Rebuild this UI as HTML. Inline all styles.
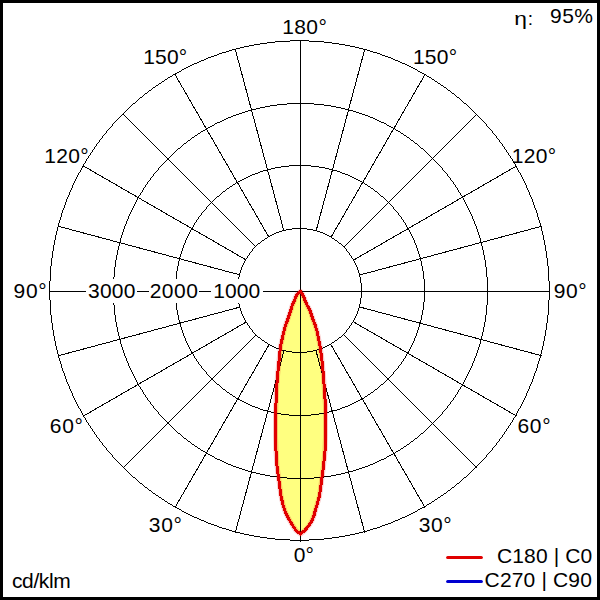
<!DOCTYPE html>
<html><head><meta charset="utf-8">
<style>
html,body{margin:0;padding:0;background:#fff;}
body{width:600px;height:600px;overflow:hidden;}
svg{display:block;}
text{font-family:"Liberation Sans",sans-serif;font-size:21px;fill:#000;}
</style></head><body>
<svg width="600" height="600" viewBox="0 0 600 600">
<rect x="0" y="0" width="600" height="600" fill="#fff"/>
<path d="M300.50,291.50 L296.90,294.50 L295.90,296.50 L295.10,298.50 L294.50,300.50 L293.50,302.50 L292.20,305.50 L290.75,310.50 L289.00,315.50 L287.70,319.50 L285.25,326.00 L284.00,331.00 L282.75,336.00 L281.75,341.00 L280.60,346.00 L279.50,356.00 L278.50,366.00 L277.50,376.00 L276.50,391.00 L275.90,406.00 L275.50,421.00 L275.50,436.00 L276.00,451.00 L277.00,466.00 L279.00,481.00 L281.00,496.00 L283.20,505.50 L284.70,510.50 L287.00,515.50 L289.70,520.50 L292.70,525.50 L296.00,530.50 L300.50,534.00 L304.80,530.50 L309.00,525.50 L312.00,520.50 L314.00,515.50 L315.30,510.50 L316.80,505.50 L319.50,496.00 L321.50,481.00 L323.50,466.00 L325.00,451.00 L325.50,436.00 L325.50,421.00 L325.50,406.00 L324.50,391.00 L323.50,376.00 L322.50,366.00 L321.50,356.00 L320.00,346.00 L319.00,341.00 L318.00,336.00 L317.00,331.00 L315.50,326.00 L313.00,319.50 L311.70,315.50 L310.00,310.50 L307.30,305.50 L305.00,300.50 L304.40,298.50 L303.40,296.50 L302.50,294.50 L300.50,291.50 Z" fill="#FFFF80" stroke="none" shape-rendering="crispEdges"/>
<g fill="none" stroke="#000" stroke-width="1" shape-rendering="crispEdges">
<line x1="49.5" y1="291.5" x2="549.5" y2="291.5"/>
<line x1="300.5" y1="40.5" x2="300.5" y2="541.5"/>
<line x1="360.37" y1="307.18" x2="541.48" y2="355.70"/>
<line x1="354.13" y1="322.25" x2="516.51" y2="416.00"/>
<line x1="344.19" y1="335.19" x2="476.78" y2="467.78"/>
<line x1="331.25" y1="345.13" x2="425.00" y2="507.51"/>
<line x1="316.18" y1="351.37" x2="364.70" y2="532.48"/>
<line x1="283.82" y1="351.37" x2="235.30" y2="532.48"/>
<line x1="268.75" y1="345.13" x2="175.00" y2="507.51"/>
<line x1="255.81" y1="335.19" x2="123.22" y2="467.78"/>
<line x1="245.87" y1="322.25" x2="83.49" y2="416.00"/>
<line x1="239.63" y1="307.18" x2="58.52" y2="355.70"/>
<line x1="239.63" y1="274.82" x2="58.52" y2="226.30"/>
<line x1="245.87" y1="259.75" x2="83.49" y2="166.00"/>
<line x1="255.81" y1="246.81" x2="123.22" y2="114.22"/>
<line x1="268.75" y1="236.87" x2="175.00" y2="74.49"/>
<line x1="283.82" y1="230.63" x2="235.30" y2="49.52"/>
<line x1="316.18" y1="230.63" x2="364.70" y2="49.52"/>
<line x1="331.25" y1="236.87" x2="425.00" y2="74.49"/>
<line x1="344.19" y1="246.81" x2="476.78" y2="114.22"/>
<line x1="354.13" y1="259.75" x2="516.51" y2="166.00"/>
<line x1="360.37" y1="274.82" x2="541.48" y2="226.30"/>
</g>
<path d="M172 75h1v1h-1zM426 75h1v1h-1zM130 106h1v1h-1zM468 106h1v1h-1zM214 55h3v1h-3zM382 55h3v1h-3zM267 42h8v1h-8zM324 42h8v1h-8zM133 477h2v1h-2zM464 477h2v1h-2zM194 517h3v1h-3zM402 517h3v1h-3zM275 41h15v1h-15zM309 41h15v1h-15zM275 539h15v1h-15zM309 539h15v1h-15zM122 114h1v1h-1zM476 114h1v1h-1zM254 536h6v1h-6zM339 536h6v1h-6zM267 538h8v1h-8zM324 538h8v1h-8zM133 103h2v1h-2zM464 103h2v1h-2zM214 525h3v1h-3zM382 525h3v1h-3zM236 532h4v1h-4zM359 532h4v1h-4zM140 483h2v1h-2zM457 483h2v1h-2zM199 61h2v1h-2zM398 61h2v1h-2zM197 518h2v1h-2zM400 518h2v1h-2zM249 535h5v1h-5zM345 535h5v1h-5zM130 474h1v1h-1zM468 474h1v1h-1zM226 51h3v1h-3zM370 51h3v1h-3zM190 515h2v1h-2zM407 515h2v1h-2zM182 511h2v1h-2zM415 511h2v1h-2zM142 484h1v1h-1zM456 484h1v1h-1zM244 46h5v1h-5zM350 46h5v1h-5zM290 40h19v1h-19zM222 52h4v1h-4zM373 52h4v1h-4zM260 537h7v1h-7zM332 537h7v1h-7zM232 531h4v1h-4zM363 531h4v1h-4zM201 520h3v1h-3zM395 520h3v1h-3zM140 97h2v1h-2zM457 97h2v1h-2zM236 48h4v1h-4zM359 48h4v1h-4zM208 523h3v1h-3zM388 523h3v1h-3zM175 73h2v1h-2zM422 73h2v1h-2zM164 80h1v1h-1zM434 80h1v1h-1zM260 43h7v1h-7zM332 43h7v1h-7zM156 85h2v1h-2zM441 85h2v1h-2zM186 513h2v1h-2zM411 513h2v1h-2zM179 509h2v1h-2zM418 509h2v1h-2zM192 516h2v1h-2zM405 516h2v1h-2zM249 45h5v1h-5zM345 45h5v1h-5zM290 540h19v1h-19zM156 495h2v1h-2zM441 495h2v1h-2zM168 77h2v1h-2zM429 77h2v1h-2zM240 533h4v1h-4zM355 533h4v1h-4zM116 120h1v1h-1zM482 120h1v1h-1zM152 492h1v1h-1zM446 492h1v1h-1zM145 93h2v1h-2zM452 93h2v1h-2zM211 56h3v1h-3zM385 56h3v1h-3zM194 63h3v1h-3zM402 63h3v1h-3zM149 490h2v1h-2zM448 490h2v1h-2zM219 53h3v1h-3zM377 53h3v1h-3zM125 111h1v1h-1zM473 111h1v1h-1zM118 462h1v1h-1zM480 462h1v1h-1zM170 76h2v1h-2zM427 76h2v1h-2zM190 65h2v1h-2zM407 65h2v1h-2zM145 487h2v1h-2zM452 487h2v1h-2zM232 49h4v1h-4zM363 49h4v1h-4zM165 501h2v1h-2zM432 501h2v1h-2zM229 530h3v1h-3zM367 530h3v1h-3zM119 463h1v1h-1zM479 463h1v1h-1zM254 44h6v1h-6zM339 44h6v1h-6zM217 54h2v1h-2zM380 54h2v1h-2zM153 493h2v1h-2zM444 493h2v1h-2zM206 522h2v1h-2zM391 522h2v1h-2zM206 58h2v1h-2zM391 58h2v1h-2zM240 47h4v1h-4zM355 47h4v1h-4zM137 480h1v1h-1zM461 480h1v1h-1zM126 470h1v1h-1zM472 470h1v1h-1zM222 528h4v1h-4zM373 528h4v1h-4zM177 508h2v1h-2zM420 508h2v1h-2zM170 504h2v1h-2zM427 504h2v1h-2zM219 527h3v1h-3zM377 527h3v1h-3zM211 524h3v1h-3zM385 524h3v1h-3zM132 104h1v1h-1zM466 104h1v1h-1zM173 506h2v1h-2zM424 506h2v1h-2zM244 534h5v1h-5zM350 534h5v1h-5zM186 67h2v1h-2zM411 67h2v1h-2zM208 57h3v1h-3zM388 57h3v1h-3zM161 498h1v1h-1zM437 498h1v1h-1zM168 503h2v1h-2zM429 503h2v1h-2zM148 489h1v1h-1zM450 489h1v1h-1zM201 60h3v1h-3zM395 60h3v1h-3zM120 116h1v1h-1zM478 116h1v1h-1zM125 469h1v1h-1zM473 469h1v1h-1zM229 50h3v1h-3zM367 50h3v1h-3zM153 87h2v1h-2zM444 87h2v1h-2zM197 62h2v1h-2zM400 62h2v1h-2zM182 69h2v1h-2zM415 69h2v1h-2zM179 71h2v1h-2zM418 71h2v1h-2zM135 478h1v1h-1zM463 478h1v1h-1zM199 519h2v1h-2zM398 519h2v1h-2zM128 108h1v1h-1zM470 108h1v1h-1zM147 92h1v1h-1zM451 92h1v1h-1zM188 66h2v1h-2zM409 66h2v1h-2zM136 101h1v1h-1zM462 101h1v1h-1zM132 476h1v1h-1zM466 476h1v1h-1zM131 475h1v1h-1zM467 475h1v1h-1zM151 89h1v1h-1zM447 89h1v1h-1zM144 486h1v1h-1zM454 486h1v1h-1zM129 107h1v1h-1zM469 107h1v1h-1zM138 481h1v1h-1zM460 481h1v1h-1zM181 510h1v1h-1zM417 510h1v1h-1zM139 98h1v1h-1zM459 98h1v1h-1zM121 115h1v1h-1zM477 115h1v1h-1zM158 84h1v1h-1zM440 84h1v1h-1zM167 502h1v1h-1zM431 502h1v1h-1zM127 109h1v1h-1zM471 109h1v1h-1zM175 507h2v1h-2zM422 507h2v1h-2zM184 68h2v1h-2zM413 68h2v1h-2zM204 521h2v1h-2zM393 521h2v1h-2zM162 499h2v1h-2zM435 499h2v1h-2zM117 119h1v1h-1zM481 119h1v1h-1zM226 529h3v1h-3zM370 529h3v1h-3zM143 485h1v1h-1zM455 485h1v1h-1zM124 468h1v1h-1zM474 468h1v1h-1zM162 81h2v1h-2zM435 81h2v1h-2zM184 512h2v1h-2zM413 512h2v1h-2zM159 497h2v1h-2zM438 497h2v1h-2zM158 496h1v1h-1zM440 496h1v1h-1zM139 482h1v1h-1zM459 482h1v1h-1zM155 494h1v1h-1zM443 494h1v1h-1zM124 112h1v1h-1zM474 112h1v1h-1zM144 94h1v1h-1zM454 94h1v1h-1zM204 59h2v1h-2zM393 59h2v1h-2zM151 491h1v1h-1zM447 491h1v1h-1zM143 95h1v1h-1zM455 95h1v1h-1zM117 461h1v1h-1zM481 461h1v1h-1zM155 86h1v1h-1zM443 86h1v1h-1zM159 83h2v1h-2zM438 83h2v1h-2zM120 464h1v1h-1zM478 464h1v1h-1zM167 78h1v1h-1zM431 78h1v1h-1zM121 465h1v1h-1zM477 465h1v1h-1zM181 70h1v1h-1zM417 70h1v1h-1zM165 79h2v1h-2zM432 79h2v1h-2zM129 473h1v1h-1zM469 473h1v1h-1zM127 471h1v1h-1zM471 471h1v1h-1zM131 105h1v1h-1zM467 105h1v1h-1zM177 72h2v1h-2zM420 72h2v1h-2zM136 479h1v1h-1zM462 479h1v1h-1zM188 514h2v1h-2zM409 514h2v1h-2zM147 488h1v1h-1zM451 488h1v1h-1zM128 472h1v1h-1zM470 472h1v1h-1zM135 102h1v1h-1zM463 102h1v1h-1zM172 505h1v1h-1zM426 505h1v1h-1zM119 117h1v1h-1zM479 117h1v1h-1zM149 90h2v1h-2zM448 90h2v1h-2zM148 91h1v1h-1zM450 91h1v1h-1zM137 100h1v1h-1zM461 100h1v1h-1zM138 99h1v1h-1zM460 99h1v1h-1zM217 526h2v1h-2zM380 526h2v1h-2zM161 82h1v1h-1zM437 82h1v1h-1zM173 74h2v1h-2zM424 74h2v1h-2zM142 96h1v1h-1zM456 96h1v1h-1zM126 110h1v1h-1zM472 110h1v1h-1zM122 466h1v1h-1zM476 466h1v1h-1zM152 88h1v1h-1zM446 88h1v1h-1zM164 500h1v1h-1zM434 500h1v1h-1zM192 64h2v1h-2zM405 64h2v1h-2zM123 467h1v1h-1zM475 467h1v1h-1zM118 118h1v1h-1zM480 118h1v1h-1zM123 113h1v1h-1zM475 113h1v1h-1zM116 460h1v1h-1zM482 460h1v1h-1zM533 202h1v3h-1zM533 376h1v3h-1zM75 179h1v2h-1zM75 400h1v2h-1zM523 179h1v2h-1zM523 400h1v2h-1zM492 131h1v2h-1zM492 448h1v2h-1zM72 185h1v3h-1zM72 393h1v3h-1zM49 281h1v19h-1zM476 114h1v1h-1zM476 466h1v1h-1zM504 147h1v2h-1zM504 432h1v2h-1zM54 240h1v5h-1zM54 336h1v5h-1zM528 190h1v2h-1zM528 389h1v2h-1zM540 223h1v4h-1zM540 354h1v4h-1zM90 153h1v2h-1zM90 426h1v2h-1zM547 258h1v8h-1zM547 315h1v8h-1zM67 197h1v2h-1zM67 382h1v2h-1zM61 213h1v4h-1zM61 364h1v4h-1zM79 172h1v1h-1zM79 408h1v1h-1zM102 136h1v2h-1zM102 443h1v2h-1zM69 192h1v3h-1zM69 386h1v3h-1zM51 258h1v8h-1zM51 315h1v8h-1zM545 245h1v6h-1zM545 330h1v6h-1zM58 223h1v4h-1zM58 354h1v4h-1zM483 121h1v1h-1zM483 459h1v1h-1zM549 281h1v19h-1zM83 164h1v2h-1zM83 415h1v2h-1zM546 251h1v7h-1zM546 323h1v7h-1zM541 227h1v4h-1zM541 350h1v4h-1zM526 185h1v3h-1zM526 393h1v3h-1zM536 210h1v3h-1zM536 368h1v3h-1zM65 202h1v3h-1zM65 376h1v3h-1zM66 199h1v3h-1zM66 379h1v3h-1zM537 213h1v4h-1zM537 364h1v4h-1zM53 245h1v6h-1zM53 330h1v6h-1zM110 127h1v1h-1zM110 453h1v1h-1zM507 152h1v1h-1zM507 428h1v1h-1zM544 240h1v5h-1zM544 336h1v5h-1zM57 227h1v4h-1zM57 350h1v4h-1zM532 199h1v3h-1zM532 379h1v3h-1zM501 143h1v1h-1zM501 437h1v1h-1zM482 120h1v1h-1zM482 460h1v1h-1zM112 124h1v2h-1zM112 455h1v2h-1zM491 130h1v1h-1zM491 450h1v1h-1zM505 149h1v1h-1zM505 431h1v1h-1zM74 181h1v2h-1zM74 398h1v2h-1zM68 195h1v2h-1zM68 384h1v2h-1zM86 159h1v2h-1zM86 420h1v2h-1zM125 111h1v1h-1zM125 469h1v1h-1zM527 188h1v2h-1zM527 391h1v2h-1zM484 122h1v1h-1zM484 458h1v1h-1zM118 118h1v1h-1zM118 462h1v1h-1zM487 126h1v1h-1zM487 454h1v1h-1zM82 166h1v2h-1zM82 413h1v2h-1zM122 114h1v1h-1zM122 466h1v1h-1zM100 139h1v1h-1zM100 441h1v1h-1zM119 117h1v1h-1zM119 463h1v1h-1zM525 183h1v2h-1zM525 396h1v2h-1zM500 142h1v1h-1zM500 438h1v1h-1zM64 205h1v3h-1zM64 373h1v3h-1zM543 235h1v5h-1zM543 341h1v5h-1zM62 210h1v3h-1zM62 368h1v3h-1zM113 123h1v1h-1zM113 457h1v1h-1zM52 251h1v7h-1zM52 323h1v7h-1zM539 220h1v3h-1zM539 358h1v3h-1zM472 110h1v1h-1zM472 470h1v1h-1zM78 173h1v2h-1zM78 406h1v2h-1zM126 110h1v1h-1zM126 470h1v1h-1zM508 153h1v2h-1zM508 426h1v2h-1zM71 188h1v2h-1zM71 391h1v2h-1zM105 133h1v1h-1zM105 447h1v1h-1zM111 126h1v1h-1zM111 454h1v1h-1zM93 149h1v1h-1zM93 431h1v1h-1zM548 266h1v15h-1zM548 300h1v15h-1zM85 161h1v2h-1zM85 418h1v2h-1zM50 266h1v15h-1zM50 300h1v15h-1zM503 146h1v1h-1zM503 434h1v1h-1zM506 150h1v2h-1zM506 429h1v2h-1zM89 155h1v1h-1zM89 425h1v1h-1zM493 133h1v1h-1zM493 447h1v1h-1zM522 177h1v2h-1zM522 402h1v2h-1zM73 183h1v2h-1zM73 396h1v2h-1zM120 116h1v1h-1zM120 464h1v1h-1zM479 117h1v1h-1zM479 463h1v1h-1zM518 170h1v2h-1zM518 409h1v2h-1zM478 116h1v1h-1zM478 464h1v1h-1zM515 164h1v2h-1zM515 415h1v2h-1zM70 190h1v2h-1zM70 389h1v2h-1zM101 138h1v1h-1zM101 442h1v1h-1zM56 231h1v4h-1zM56 346h1v4h-1zM470 108h1v1h-1zM470 472h1v1h-1zM529 192h1v3h-1zM529 386h1v3h-1zM60 217h1v3h-1zM60 361h1v3h-1zM535 208h1v2h-1zM535 371h1v2h-1zM542 231h1v4h-1zM542 346h1v4h-1zM81 168h1v2h-1zM81 411h1v2h-1zM129 107h1v1h-1zM129 473h1v1h-1zM103 135h1v1h-1zM103 445h1v1h-1zM494 134h1v1h-1zM494 446h1v1h-1zM477 115h1v1h-1zM477 465h1v1h-1zM63 208h1v2h-1zM63 371h1v2h-1zM127 109h1v1h-1zM127 471h1v1h-1zM521 175h1v2h-1zM521 404h1v2h-1zM486 124h1v2h-1zM486 455h1v2h-1zM510 156h1v2h-1zM510 423h1v2h-1zM513 161h1v2h-1zM513 418h1v2h-1zM117 119h1v1h-1zM117 461h1v1h-1zM96 144h1v2h-1zM96 435h1v2h-1zM502 144h1v2h-1zM502 435h1v2h-1zM114 122h1v1h-1zM114 458h1v1h-1zM88 156h1v2h-1zM88 423h1v2h-1zM115 121h1v1h-1zM115 459h1v1h-1zM77 175h1v2h-1zM77 404h1v2h-1zM474 112h1v1h-1zM474 468h1v1h-1zM55 235h1v5h-1zM55 341h1v5h-1zM80 170h1v2h-1zM80 409h1v2h-1zM92 150h1v2h-1zM92 429h1v2h-1zM534 205h1v3h-1zM534 373h1v3h-1zM524 181h1v2h-1zM524 398h1v2h-1zM538 217h1v3h-1zM538 361h1v3h-1zM106 131h1v2h-1zM106 448h1v2h-1zM496 136h1v2h-1zM496 443h1v2h-1zM517 168h1v2h-1zM517 411h1v2h-1zM520 173h1v2h-1zM520 406h1v2h-1zM59 220h1v3h-1zM59 358h1v3h-1zM104 134h1v1h-1zM104 446h1v1h-1zM124 112h1v1h-1zM124 468h1v1h-1zM531 197h1v2h-1zM531 382h1v2h-1zM99 140h1v2h-1zM99 439h1v2h-1zM84 163h1v1h-1zM84 417h1v1h-1zM87 158h1v1h-1zM87 422h1v1h-1zM481 119h1v1h-1zM481 461h1v1h-1zM76 177h1v2h-1zM76 402h1v2h-1zM497 138h1v1h-1zM497 442h1v1h-1zM509 155h1v1h-1zM509 425h1v1h-1zM121 115h1v1h-1zM121 465h1v1h-1zM489 128h1v1h-1zM489 452h1v1h-1zM107 130h1v1h-1zM107 450h1v1h-1zM495 135h1v1h-1zM495 445h1v1h-1zM516 166h1v2h-1zM516 413h1v2h-1zM469 107h1v1h-1zM469 473h1v1h-1zM530 195h1v2h-1zM530 384h1v2h-1zM128 108h1v1h-1zM128 472h1v1h-1zM91 152h1v1h-1zM91 428h1v1h-1zM512 159h1v2h-1zM512 420h1v2h-1zM94 147h1v2h-1zM94 432h1v2h-1zM519 172h1v1h-1zM519 408h1v1h-1zM95 146h1v1h-1zM95 434h1v1h-1zM473 111h1v1h-1zM473 469h1v1h-1zM471 109h1v1h-1zM471 471h1v1h-1zM98 142h1v1h-1zM98 438h1v1h-1zM511 158h1v1h-1zM511 422h1v1h-1zM499 140h1v2h-1zM499 439h1v2h-1zM97 143h1v1h-1zM97 437h1v1h-1zM488 127h1v1h-1zM488 453h1v1h-1zM123 113h1v1h-1zM123 467h1v1h-1zM108 129h1v1h-1zM108 451h1v1h-1zM485 123h1v1h-1zM485 457h1v1h-1zM109 128h1v1h-1zM109 452h1v1h-1zM514 163h1v1h-1zM514 417h1v1h-1zM475 113h1v1h-1zM475 467h1v1h-1zM490 129h1v1h-1zM490 451h1v1h-1zM116 120h1v1h-1zM116 460h1v1h-1zM498 139h1v1h-1zM498 441h1v1h-1zM480 118h1v1h-1zM480 462h1v1h-1zM277 477h10v1h-10zM314 477h10v1h-10zM171 155h1v1h-1zM429 155h1v1h-1zM183 437h1v1h-1zM417 437h1v1h-1zM287 103h27v1h-27zM206 453h2v1h-2zM393 453h2v1h-2zM265 475h5v1h-5zM331 475h5v1h-5zM236 114h3v1h-3zM362 114h3v1h-3zM248 471h4v1h-4zM349 471h4v1h-4zM248 110h4v1h-4zM349 110h4v1h-4zM170 425h1v1h-1zM430 425h1v1h-1zM277 104h10v1h-10zM314 104h10v1h-10zM239 468h3v1h-3zM359 468h3v1h-3zM165 161h1v1h-1zM435 161h1v1h-1zM252 472h4v1h-4zM345 472h4v1h-4zM287 478h27v1h-27zM245 111h3v1h-3zM353 111h3v1h-3zM164 162h1v1h-1zM436 162h1v1h-1zM177 149h1v1h-1zM423 149h1v1h-1zM228 464h3v1h-3zM370 464h3v1h-3zM195 446h2v1h-2zM404 446h2v1h-2zM242 112h3v1h-3zM356 112h3v1h-3zM270 476h7v1h-7zM324 476h7v1h-7zM220 121h2v1h-2zM379 121h2v1h-2zM265 106h5v1h-5zM331 106h5v1h-5zM167 159h1v1h-1zM433 159h1v1h-1zM177 432h1v1h-1zM423 432h1v1h-1zM191 443h1v1h-1zM409 443h1v1h-1zM210 455h2v1h-2zM389 455h2v1h-2zM205 129h1v1h-1zM395 129h1v1h-1zM192 444h2v1h-2zM407 444h2v1h-2zM183 144h1v1h-1zM417 144h1v1h-1zM233 115h3v1h-3zM365 115h3v1h-3zM217 459h3v1h-3zM381 459h3v1h-3zM260 107h5v1h-5zM336 107h5v1h-5zM252 109h4v1h-4zM345 109h4v1h-4zM182 145h1v1h-1zM418 145h1v1h-1zM210 126h2v1h-2zM389 126h2v1h-2zM231 116h2v1h-2zM368 116h2v1h-2zM256 473h4v1h-4zM341 473h4v1h-4zM172 427h1v1h-1zM428 427h1v1h-1zM212 125h2v1h-2zM387 125h2v1h-2zM201 131h2v1h-2zM398 131h2v1h-2zM208 127h2v1h-2zM391 127h2v1h-2zM203 130h2v1h-2zM396 130h2v1h-2zM195 135h2v1h-2zM404 135h2v1h-2zM181 146h1v1h-1zM419 146h1v1h-1zM239 113h3v1h-3zM359 113h3v1h-3zM233 466h3v1h-3zM365 466h3v1h-3zM206 128h2v1h-2zM393 128h2v1h-2zM184 143h2v1h-2zM415 143h2v1h-2zM174 152h1v1h-1zM426 152h1v1h-1zM188 140h2v1h-2zM411 140h2v1h-2zM228 117h3v1h-3zM370 117h3v1h-3zM222 120h2v1h-2zM377 120h2v1h-2zM222 461h2v1h-2zM377 461h2v1h-2zM270 105h7v1h-7zM324 105h7v1h-7zM224 119h2v1h-2zM375 119h2v1h-2zM165 420h1v1h-1zM435 420h1v1h-1zM236 467h3v1h-3zM362 467h3v1h-3zM176 431h1v1h-1zM424 431h1v1h-1zM184 438h2v1h-2zM415 438h2v1h-2zM214 457h1v1h-1zM386 457h1v1h-1zM187 440h1v1h-1zM413 440h1v1h-1zM200 132h1v1h-1zM400 132h1v1h-1zM192 137h2v1h-2zM407 137h2v1h-2zM181 435h1v1h-1zM419 435h1v1h-1zM188 441h2v1h-2zM411 441h2v1h-2zM217 122h3v1h-3zM381 122h3v1h-3zM242 469h3v1h-3zM356 469h3v1h-3zM200 449h1v1h-1zM400 449h1v1h-1zM187 141h1v1h-1zM413 141h1v1h-1zM260 474h5v1h-5zM336 474h5v1h-5zM176 150h1v1h-1zM424 150h1v1h-1zM231 465h2v1h-2zM368 465h2v1h-2zM256 108h4v1h-4zM341 108h4v1h-4zM224 462h2v1h-2zM375 462h2v1h-2zM226 463h2v1h-2zM373 463h2v1h-2zM169 157h1v1h-1zM431 157h1v1h-1zM220 460h2v1h-2zM379 460h2v1h-2zM212 456h2v1h-2zM387 456h2v1h-2zM205 452h1v1h-1zM395 452h1v1h-1zM174 429h1v1h-1zM426 429h1v1h-1zM208 454h2v1h-2zM391 454h2v1h-2zM198 448h2v1h-2zM401 448h2v1h-2zM203 451h2v1h-2zM396 451h2v1h-2zM201 450h2v1h-2zM398 450h2v1h-2zM170 156h1v1h-1zM430 156h1v1h-1zM197 447h1v1h-1zM403 447h1v1h-1zM180 147h1v1h-1zM420 147h1v1h-1zM215 123h2v1h-2zM384 123h2v1h-2zM245 470h3v1h-3zM353 470h3v1h-3zM215 458h2v1h-2zM384 458h2v1h-2zM194 445h1v1h-1zM406 445h1v1h-1zM171 426h1v1h-1zM429 426h1v1h-1zM190 442h1v1h-1zM410 442h1v1h-1zM163 163h1v1h-1zM437 163h1v1h-1zM198 133h2v1h-2zM401 133h2v1h-2zM191 138h1v1h-1zM409 138h1v1h-1zM178 433h2v1h-2zM421 433h2v1h-2zM186 439h1v1h-1zM414 439h1v1h-1zM163 418h1v1h-1zM437 418h1v1h-1zM186 142h1v1h-1zM414 142h1v1h-1zM226 118h2v1h-2zM373 118h2v1h-2zM175 430h1v1h-1zM425 430h1v1h-1zM190 139h1v1h-1zM410 139h1v1h-1zM175 151h1v1h-1zM425 151h1v1h-1zM197 134h1v1h-1zM403 134h1v1h-1zM178 148h2v1h-2zM421 148h2v1h-2zM166 421h1v1h-1zM434 421h1v1h-1zM167 422h1v1h-1zM433 422h1v1h-1zM168 158h1v1h-1zM432 158h1v1h-1zM168 423h1v1h-1zM432 423h1v1h-1zM173 428h1v1h-1zM427 428h1v1h-1zM166 160h1v1h-1zM434 160h1v1h-1zM194 136h1v1h-1zM406 136h1v1h-1zM173 153h1v1h-1zM427 153h1v1h-1zM180 434h1v1h-1zM420 434h1v1h-1zM169 424h1v1h-1zM431 424h1v1h-1zM214 124h1v1h-1zM386 124h1v1h-1zM182 436h1v1h-1zM418 436h1v1h-1zM172 154h1v1h-1zM428 154h1v1h-1zM164 419h1v1h-1zM436 419h1v1h-1zM429 155h1v1h-1zM429 426h1v1h-1zM458 190h1v2h-1zM458 390h1v2h-1zM472 216h1v3h-1zM472 363h1v3h-1zM143 188h1v2h-1zM143 392h1v2h-1zM486 267h1v10h-1zM486 305h1v10h-1zM137 198h1v2h-1zM137 382h1v2h-1zM145 185h1v2h-1zM145 395h1v2h-1zM113 277h1v28h-1zM135 202h1v2h-1zM135 378h1v2h-1zM122 232h1v3h-1zM122 347h1v3h-1zM454 184h1v1h-1zM454 397h1v1h-1zM462 196h1v2h-1zM462 384h1v2h-1zM170 156h1v1h-1zM170 425h1v1h-1zM475 224h1v2h-1zM475 356h1v2h-1zM480 238h1v4h-1zM480 340h1v4h-1zM435 161h1v1h-1zM435 420h1v1h-1zM115 260h1v7h-1zM115 315h1v7h-1zM114 267h1v10h-1zM114 305h1v10h-1zM455 185h1v2h-1zM455 395h1v2h-1zM476 226h1v3h-1zM476 353h1v3h-1zM436 162h1v1h-1zM436 419h1v1h-1zM471 214h1v2h-1zM471 366h1v2h-1zM485 260h1v7h-1zM485 315h1v7h-1zM484 255h1v5h-1zM484 322h1v5h-1zM167 159h1v1h-1zM167 422h1v1h-1zM126 221h1v3h-1zM126 358h1v3h-1zM479 235h1v3h-1zM479 344h1v3h-1zM440 166h1v1h-1zM440 415h1v1h-1zM443 170h1v1h-1zM443 411h1v1h-1zM119 242h1v4h-1zM119 336h1v4h-1zM140 193h1v2h-1zM140 387h1v2h-1zM130 212h1v2h-1zM130 368h1v2h-1zM467 206h1v2h-1zM467 374h1v2h-1zM483 250h1v5h-1zM483 327h1v5h-1zM165 161h1v1h-1zM165 420h1v1h-1zM468 208h1v2h-1zM468 372h1v2h-1zM141 192h1v1h-1zM141 389h1v1h-1zM118 246h1v4h-1zM118 332h1v4h-1zM457 188h1v2h-1zM457 392h1v2h-1zM465 202h1v2h-1zM465 378h1v2h-1zM116 255h1v5h-1zM116 322h1v5h-1zM144 187h1v1h-1zM144 394h1v1h-1zM146 184h1v1h-1zM146 397h1v1h-1zM155 172h1v1h-1zM155 409h1v1h-1zM428 154h1v1h-1zM428 427h1v1h-1zM448 176h1v1h-1zM448 405h1v1h-1zM461 195h1v1h-1zM461 386h1v1h-1zM142 190h1v2h-1zM142 390h1v2h-1zM134 204h1v2h-1zM134 376h1v2h-1zM121 235h1v3h-1zM121 344h1v3h-1zM478 232h1v3h-1zM478 347h1v3h-1zM442 168h1v2h-1zM442 412h1v2h-1zM136 200h1v2h-1zM136 380h1v2h-1zM139 195h1v1h-1zM139 386h1v1h-1zM149 180h1v1h-1zM149 401h1v1h-1zM147 182h1v2h-1zM147 398h1v2h-1zM464 200h1v2h-1zM464 380h1v2h-1zM453 182h1v2h-1zM453 398h1v2h-1zM117 250h1v5h-1zM117 327h1v5h-1zM162 164h1v1h-1zM162 417h1v1h-1zM133 206h1v2h-1zM133 374h1v2h-1zM487 277h1v28h-1zM158 168h1v2h-1zM158 412h1v2h-1zM157 170h1v1h-1zM157 411h1v1h-1zM466 204h1v2h-1zM466 376h1v2h-1zM125 224h1v2h-1zM125 356h1v2h-1zM482 246h1v4h-1zM482 332h1v4h-1zM438 164h1v1h-1zM438 417h1v1h-1zM470 212h1v2h-1zM470 368h1v2h-1zM460 193h1v2h-1zM460 387h1v2h-1zM451 180h1v1h-1zM451 401h1v1h-1zM431 157h1v1h-1zM431 424h1v1h-1zM169 157h1v1h-1zM169 424h1v1h-1zM138 196h1v2h-1zM138 384h1v2h-1zM481 242h1v4h-1zM481 336h1v4h-1zM132 208h1v2h-1zM132 372h1v2h-1zM474 221h1v3h-1zM474 358h1v3h-1zM172 154h1v1h-1zM172 427h1v1h-1zM129 214h1v2h-1zM129 366h1v2h-1zM128 216h1v3h-1zM128 363h1v3h-1zM445 172h1v1h-1zM445 409h1v1h-1zM120 238h1v4h-1zM120 340h1v4h-1zM446 173h1v1h-1zM446 408h1v1h-1zM430 156h1v1h-1zM430 425h1v1h-1zM459 192h1v1h-1zM459 389h1v1h-1zM473 219h1v2h-1zM473 361h1v2h-1zM124 226h1v3h-1zM124 353h1v3h-1zM469 210h1v2h-1zM469 370h1v2h-1zM164 162h1v1h-1zM164 419h1v1h-1zM450 178h1v2h-1zM450 402h1v2h-1zM477 229h1v3h-1zM477 350h1v3h-1zM463 198h1v2h-1zM463 382h1v2h-1zM150 178h1v2h-1zM150 402h1v2h-1zM171 155h1v1h-1zM171 426h1v1h-1zM131 210h1v2h-1zM131 370h1v2h-1zM437 163h1v1h-1zM437 418h1v1h-1zM156 171h1v1h-1zM156 410h1v1h-1zM127 219h1v2h-1zM127 361h1v2h-1zM160 166h1v1h-1zM160 415h1v1h-1zM148 181h1v1h-1zM148 400h1v1h-1zM151 177h1v1h-1zM151 404h1v1h-1zM123 229h1v3h-1zM123 350h1v3h-1zM447 174h1v2h-1zM447 406h1v2h-1zM159 167h1v1h-1zM159 414h1v1h-1zM154 173h1v1h-1zM154 408h1v1h-1zM456 187h1v1h-1zM456 394h1v1h-1zM166 160h1v1h-1zM166 421h1v1h-1zM432 158h1v1h-1zM432 423h1v1h-1zM173 153h1v1h-1zM173 428h1v1h-1zM152 176h1v1h-1zM152 405h1v1h-1zM444 171h1v1h-1zM444 410h1v1h-1zM153 174h1v2h-1zM153 406h1v2h-1zM439 165h1v1h-1zM439 416h1v1h-1zM427 153h1v1h-1zM427 428h1v1h-1zM161 165h1v1h-1zM161 416h1v1h-1zM449 177h1v1h-1zM449 404h1v1h-1zM168 158h1v1h-1zM168 423h1v1h-1zM434 160h1v1h-1zM434 421h1v1h-1zM433 159h1v1h-1zM433 422h1v1h-1zM452 181h1v1h-1zM452 400h1v1h-1zM441 167h1v1h-1zM441 414h1v1h-1zM163 163h1v1h-1zM163 418h1v1h-1zM250 405h2v1h-2zM348 405h2v1h-2zM289 415h22v1h-22zM260 171h3v1h-3zM337 171h3v1h-3zM260 409h3v1h-3zM337 409h3v1h-3zM289 165h22v1h-22zM242 179h2v1h-2zM356 179h2v1h-2zM250 175h2v1h-2zM348 175h2v1h-2zM252 406h3v1h-3zM345 406h3v1h-3zM217 384h2v1h-2zM381 384h2v1h-2zM258 172h2v1h-2zM340 172h2v1h-2zM246 403h2v1h-2zM352 403h2v1h-2zM267 169h4v1h-4zM329 169h4v1h-4zM209 376h1v1h-1zM390 376h1v1h-1zM211 378h1v1h-1zM388 378h1v1h-1zM281 414h8v1h-8zM311 414h8v1h-8zM255 173h3v1h-3zM342 173h3v1h-3zM271 412h4v1h-4zM325 412h4v1h-4zM240 180h2v1h-2zM358 180h2v1h-2zM221 193h1v1h-1zM378 193h1v1h-1zM281 166h8v1h-8zM311 166h8v1h-8zM222 192h1v1h-1zM377 192h1v1h-1zM263 410h4v1h-4zM333 410h4v1h-4zM216 383h1v1h-1zM383 383h1v1h-1zM227 392h2v1h-2zM371 392h2v1h-2zM236 182h2v1h-2zM362 182h2v1h-2zM244 178h2v1h-2zM354 178h2v1h-2zM275 413h6v1h-6zM319 413h6v1h-6zM235 397h1v1h-1zM364 397h1v1h-1zM211 202h1v1h-1zM388 202h1v1h-1zM210 203h1v1h-1zM389 203h1v1h-1zM230 394h2v1h-2zM368 394h2v1h-2zM233 184h2v1h-2zM365 184h2v1h-2zM258 408h2v1h-2zM340 408h2v1h-2zM248 176h2v1h-2zM350 176h2v1h-2zM275 167h6v1h-6zM319 167h6v1h-6zM223 389h2v1h-2zM375 389h2v1h-2zM271 168h4v1h-4zM325 168h4v1h-4zM220 386h1v1h-1zM379 386h1v1h-1zM252 174h3v1h-3zM345 174h3v1h-3zM238 399h2v1h-2zM360 399h2v1h-2zM263 170h4v1h-4zM333 170h4v1h-4zM226 189h1v1h-1zM373 189h1v1h-1zM242 401h2v1h-2zM356 401h2v1h-2zM223 191h2v1h-2zM375 191h2v1h-2zM213 200h1v1h-1zM386 200h1v1h-1zM267 411h4v1h-4zM329 411h4v1h-4zM248 404h2v1h-2zM350 404h2v1h-2zM230 186h2v1h-2zM368 186h2v1h-2zM212 379h1v1h-1zM387 379h1v1h-1zM227 188h2v1h-2zM371 188h2v1h-2zM216 197h1v1h-1zM383 197h1v1h-1zM235 183h1v1h-1zM364 183h1v1h-1zM215 198h1v1h-1zM384 198h1v1h-1zM233 396h2v1h-2zM365 396h2v1h-2zM255 407h3v1h-3zM342 407h3v1h-3zM232 185h1v1h-1zM367 185h1v1h-1zM209 204h1v1h-1zM390 204h1v1h-1zM229 393h1v1h-1zM370 393h1v1h-1zM236 398h2v1h-2zM362 398h2v1h-2zM214 381h1v1h-1zM385 381h1v1h-1zM225 390h1v1h-1zM374 390h1v1h-1zM240 400h2v1h-2zM358 400h2v1h-2zM221 387h1v1h-1zM378 387h1v1h-1zM244 402h2v1h-2zM354 402h2v1h-2zM232 395h1v1h-1zM367 395h1v1h-1zM220 194h1v1h-1zM379 194h1v1h-1zM246 177h2v1h-2zM352 177h2v1h-2zM219 195h1v1h-1zM380 195h1v1h-1zM238 181h2v1h-2zM360 181h2v1h-2zM212 201h1v1h-1zM387 201h1v1h-1zM225 190h1v1h-1zM374 190h1v1h-1zM214 199h1v1h-1zM385 199h1v1h-1zM213 380h1v1h-1zM386 380h1v1h-1zM229 187h1v1h-1zM370 187h1v1h-1zM217 196h2v1h-2zM381 196h2v1h-2zM219 385h1v1h-1zM380 385h1v1h-1zM215 382h1v1h-1zM384 382h1v1h-1zM210 377h1v1h-1zM389 377h1v1h-1zM222 388h1v1h-1zM377 388h1v1h-1zM226 391h1v1h-1zM373 391h1v1h-1zM424 279h1v23h-1zM181 251h1v3h-1zM181 327h1v3h-1zM202 212h1v1h-1zM202 368h1v1h-1zM191 228h1v2h-1zM191 351h1v2h-1zM421 261h1v5h-1zM421 315h1v5h-1zM203 211h1v1h-1zM203 369h1v1h-1zM177 266h1v5h-1zM177 310h1v5h-1zM187 236h1v2h-1zM187 343h1v2h-1zM414 240h1v3h-1zM414 338h1v3h-1zM209 204h1v1h-1zM209 376h1v1h-1zM388 202h1v1h-1zM388 378h1v1h-1zM183 245h1v3h-1zM183 333h1v3h-1zM423 271h1v8h-1zM423 302h1v8h-1zM420 257h1v4h-1zM420 320h1v4h-1zM396 211h1v1h-1zM396 369h1v1h-1zM198 217h1v2h-1zM198 362h1v2h-1zM184 243h1v2h-1zM184 336h1v2h-1zM412 236h1v2h-1zM412 343h1v2h-1zM418 251h1v3h-1zM418 327h1v3h-1zM178 261h1v5h-1zM178 315h1v5h-1zM415 243h1v2h-1zM415 336h1v2h-1zM182 248h1v3h-1zM182 330h1v3h-1zM419 254h1v3h-1zM419 324h1v3h-1zM194 223h1v2h-1zM194 356h1v2h-1zM180 254h1v3h-1zM180 324h1v3h-1zM201 213h1v2h-1zM201 366h1v2h-1zM206 207h1v2h-1zM206 372h1v2h-1zM408 228h1v2h-1zM408 351h1v2h-1zM389 203h1v1h-1zM389 377h1v1h-1zM179 257h1v4h-1zM179 320h1v4h-1zM190 230h1v2h-1zM190 349h1v2h-1zM411 234h1v2h-1zM411 345h1v2h-1zM186 238h1v2h-1zM186 341h1v2h-1zM398 213h1v2h-1zM398 366h1v2h-1zM185 240h1v3h-1zM185 338h1v3h-1zM176 271h1v8h-1zM176 302h1v8h-1zM399 215h1v1h-1zM399 365h1v1h-1zM410 232h1v2h-1zM410 347h1v2h-1zM403 220h1v2h-1zM403 359h1v2h-1zM390 204h1v1h-1zM390 376h1v1h-1zM417 248h1v3h-1zM417 330h1v3h-1zM197 219h1v1h-1zM197 361h1v1h-1zM189 232h1v2h-1zM189 347h1v2h-1zM213 200h1v1h-1zM213 380h1v1h-1zM413 238h1v2h-1zM413 341h1v2h-1zM193 225h1v2h-1zM193 354h1v2h-1zM211 202h1v1h-1zM211 378h1v1h-1zM406 225h1v2h-1zM406 354h1v2h-1zM212 201h1v1h-1zM212 379h1v1h-1zM205 209h1v1h-1zM205 371h1v1h-1zM402 219h1v1h-1zM402 361h1v1h-1zM422 266h1v5h-1zM422 310h1v5h-1zM175 279h1v23h-1zM204 210h1v1h-1zM204 370h1v1h-1zM391 205h1v1h-1zM391 375h1v1h-1zM385 199h1v1h-1zM385 381h1v1h-1zM208 205h1v1h-1zM208 375h1v1h-1zM409 230h1v2h-1zM409 349h1v2h-1zM393 207h1v2h-1zM393 372h1v2h-1zM200 215h1v1h-1zM200 365h1v1h-1zM416 245h1v3h-1zM416 333h1v3h-1zM401 217h1v2h-1zM401 362h1v2h-1zM404 222h1v1h-1zM404 358h1v1h-1zM196 220h1v2h-1zM196 359h1v2h-1zM405 223h1v2h-1zM405 356h1v2h-1zM207 206h1v1h-1zM207 374h1v1h-1zM394 209h1v1h-1zM394 371h1v1h-1zM400 216h1v1h-1zM400 364h1v1h-1zM188 234h1v2h-1zM188 345h1v2h-1zM214 199h1v1h-1zM214 381h1v1h-1zM386 200h1v1h-1zM386 380h1v1h-1zM210 203h1v1h-1zM210 377h1v1h-1zM192 227h1v1h-1zM192 353h1v1h-1zM392 206h1v1h-1zM392 374h1v1h-1zM395 210h1v1h-1zM395 370h1v1h-1zM407 227h1v1h-1zM407 353h1v1h-1zM199 216h1v1h-1zM199 364h1v1h-1zM195 222h1v1h-1zM195 358h1v1h-1zM387 201h1v1h-1zM387 379h1v1h-1zM397 212h1v1h-1zM397 368h1v1h-1zM292 352h15v1h-15zM272 234h2v1h-2zM325 234h2v1h-2zM292 228h15v1h-15zM268 344h2v1h-2zM329 344h2v1h-2zM258 337h2v1h-2zM339 337h2v1h-2zM270 235h2v1h-2zM327 235h2v1h-2zM274 347h2v1h-2zM323 347h2v1h-2zM254 333h1v1h-1zM344 333h1v1h-1zM282 230h4v1h-4zM313 230h4v1h-4zM272 346h2v1h-2zM325 346h2v1h-2zM286 229h6v1h-6zM307 229h6v1h-6zM265 342h2v1h-2zM332 342h2v1h-2zM264 341h1v1h-1zM334 341h1v1h-1zM276 232h3v1h-3zM320 232h3v1h-3zM286 351h6v1h-6zM307 351h6v1h-6zM279 231h3v1h-3zM317 231h3v1h-3zM282 350h4v1h-4zM313 350h4v1h-4zM262 240h2v1h-2zM335 240h2v1h-2zM268 236h2v1h-2zM329 236h2v1h-2zM260 338h1v1h-1zM338 338h1v1h-1zM261 241h1v1h-1zM337 241h1v1h-1zM262 340h2v1h-2zM335 340h2v1h-2zM265 238h2v1h-2zM332 238h2v1h-2zM257 244h1v1h-1zM341 244h1v1h-1zM258 243h2v1h-2zM339 243h2v1h-2zM279 349h3v1h-3zM317 349h3v1h-3zM260 242h1v1h-1zM338 242h1v1h-1zM270 345h2v1h-2zM327 345h2v1h-2zM256 245h1v1h-1zM342 245h1v1h-1zM276 348h3v1h-3zM320 348h3v1h-3zM261 339h1v1h-1zM337 339h1v1h-1zM256 335h1v1h-1zM342 335h1v1h-1zM255 334h1v1h-1zM343 334h1v1h-1zM257 336h1v1h-1zM341 336h1v1h-1zM267 343h1v1h-1zM331 343h1v1h-1zM274 233h2v1h-2zM323 233h2v1h-2zM264 239h1v1h-1zM334 239h1v1h-1zM254 247h1v1h-1zM344 247h1v1h-1zM255 246h1v1h-1zM343 246h1v1h-1zM267 237h1v1h-1zM331 237h1v1h-1zM237 283h1v15h-1zM357 267h1v3h-1zM357 311h1v3h-1zM241 267h1v3h-1zM241 311h1v3h-1zM346 249h1v2h-1zM346 330h1v2h-1zM348 252h1v1h-1zM348 328h1v1h-1zM243 263h1v2h-1zM243 316h1v2h-1zM238 277h1v6h-1zM238 298h1v6h-1zM360 277h1v6h-1zM360 298h1v6h-1zM359 273h1v4h-1zM359 304h1v4h-1zM245 259h1v2h-1zM245 320h1v2h-1zM350 255h1v1h-1zM350 325h1v1h-1zM361 283h1v15h-1zM254 247h1v1h-1zM254 333h1v1h-1zM344 247h1v1h-1zM344 333h1v1h-1zM345 248h1v1h-1zM345 332h1v1h-1zM354 261h1v2h-1zM354 318h1v2h-1zM355 263h1v2h-1zM355 316h1v2h-1zM247 256h1v2h-1zM247 323h1v2h-1zM249 253h1v2h-1zM249 326h1v2h-1zM353 259h1v2h-1zM353 320h1v2h-1zM351 256h1v2h-1zM351 323h1v2h-1zM239 273h1v4h-1zM239 304h1v4h-1zM248 255h1v1h-1zM248 325h1v1h-1zM242 265h1v2h-1zM242 314h1v2h-1zM240 270h1v3h-1zM240 308h1v3h-1zM250 252h1v1h-1zM250 328h1v1h-1zM358 270h1v3h-1zM358 308h1v3h-1zM349 253h1v2h-1zM349 326h1v2h-1zM251 251h1v1h-1zM251 329h1v1h-1zM244 261h1v2h-1zM244 318h1v2h-1zM252 249h1v2h-1zM252 330h1v2h-1zM256 245h1v1h-1zM256 335h1v1h-1zM356 265h1v2h-1zM356 314h1v2h-1zM342 245h1v1h-1zM342 335h1v1h-1zM343 246h1v1h-1zM343 334h1v1h-1zM347 251h1v1h-1zM347 329h1v1h-1zM352 258h1v1h-1zM352 322h1v1h-1zM255 246h1v1h-1zM255 334h1v1h-1zM253 248h1v1h-1zM253 332h1v1h-1zM246 258h1v1h-1zM246 322h1v1h-1z" fill="#000" shape-rendering="crispEdges"/>
<path d="M300.50,291.50 L296.90,294.50 L295.90,296.50 L295.10,298.50 L294.50,300.50 L293.50,302.50 L292.20,305.50 L290.75,310.50 L289.00,315.50 L287.70,319.50 L285.25,326.00 L284.00,331.00 L282.75,336.00 L281.75,341.00 L280.60,346.00 L279.50,356.00 L278.50,366.00 L277.50,376.00 L276.50,391.00 L275.90,406.00 L275.50,421.00 L275.50,436.00 L276.00,451.00 L277.00,466.00 L279.00,481.00 L281.00,496.00 L283.20,505.50 L284.70,510.50 L287.00,515.50 L289.70,520.50 L292.70,525.50 L296.00,530.50 L300.50,534.00 L304.80,530.50 L309.00,525.50 L312.00,520.50 L314.00,515.50 L315.30,510.50 L316.80,505.50 L319.50,496.00 L321.50,481.00 L323.50,466.00 L325.00,451.00 L325.50,436.00 L325.50,421.00 L325.50,406.00 L324.50,391.00 L323.50,376.00 L322.50,366.00 L321.50,356.00 L320.00,346.00 L319.00,341.00 L318.00,336.00 L317.00,331.00 L315.50,326.00 L313.00,319.50 L311.70,315.50 L310.00,310.50 L307.30,305.50 L305.00,300.50 L304.40,298.50 L303.40,296.50 L302.50,294.50 L300.50,291.50 Z" fill="none" stroke="#E00000" stroke-opacity="0.22" stroke-width="5" stroke-linejoin="round"/>
<path d="M300.50,291.50 L296.90,294.50 L295.90,296.50 L295.10,298.50 L294.50,300.50 L293.50,302.50 L292.20,305.50 L290.75,310.50 L289.00,315.50 L287.70,319.50 L285.25,326.00 L284.00,331.00 L282.75,336.00 L281.75,341.00 L280.60,346.00 L279.50,356.00 L278.50,366.00 L277.50,376.00 L276.50,391.00 L275.90,406.00 L275.50,421.00 L275.50,436.00 L276.00,451.00 L277.00,466.00 L279.00,481.00 L281.00,496.00 L283.20,505.50 L284.70,510.50 L287.00,515.50 L289.70,520.50 L292.70,525.50 L296.00,530.50 L300.50,534.00 L304.80,530.50 L309.00,525.50 L312.00,520.50 L314.00,515.50 L315.30,510.50 L316.80,505.50 L319.50,496.00 L321.50,481.00 L323.50,466.00 L325.00,451.00 L325.50,436.00 L325.50,421.00 L325.50,406.00 L324.50,391.00 L323.50,376.00 L322.50,366.00 L321.50,356.00 L320.00,346.00 L319.00,341.00 L318.00,336.00 L317.00,331.00 L315.50,326.00 L313.00,319.50 L311.70,315.50 L310.00,310.50 L307.30,305.50 L305.00,300.50 L304.40,298.50 L303.40,296.50 L302.50,294.50 L300.50,291.50 Z" fill="none" stroke="#E00000" stroke-width="3" stroke-linejoin="round" shape-rendering="crispEdges"/>
<g fill="#fff">
<rect x="86" y="279" width="51" height="24"/>
<rect x="149" y="279" width="50" height="24"/>
<rect x="211" y="279" width="52" height="24"/>
</g>
<text x="282.20" y="33.75" letter-spacing="0.40">180°</text>
<text x="143.20" y="63.90" letter-spacing="0.20">150°</text>
<text x="412.90" y="63.90" letter-spacing="0.30">150°</text>
<text x="44.30" y="162.80" letter-spacing="0.30">120°</text>
<text x="511.80" y="162.60" letter-spacing="0.33">120°</text>
<text x="13.60" y="298.00" letter-spacing="0.65">90°</text>
<text x="553.70" y="298.00" letter-spacing="0.55">90°</text>
<text x="88.00" y="297.50" letter-spacing="0.25">3000</text>
<text x="149.70" y="297.50" letter-spacing="0.50">2000</text>
<text x="213.20" y="297.50" letter-spacing="0.10">1000</text>
<text x="49.80" y="433.00" letter-spacing="0.65">60°</text>
<text x="517.40" y="433.00" letter-spacing="0.70">60°</text>
<text x="148.80" y="531.70" letter-spacing="0.70">30°</text>
<text x="418.80" y="531.70" letter-spacing="0.55">30°</text>
<text x="293.70" y="561.60" letter-spacing="0.20">0°</text>
<text x="550.00" y="22.50" letter-spacing="0.50">95%</text>
<text x="12.00" y="588.00" letter-spacing="-0.40">cd/klm</text>
<text x="497.00" y="563.40" letter-spacing="0.12">C180 | C0</text>
<text x="484.60" y="587.00" letter-spacing="0.16">C270 | C90</text>
<text transform="translate(514.2,24.6) scale(1.2,1)" style="font-size:19px">η</text>
<text x="527.8" y="24.8" style="font-size:19px">:</text>
<line x1="447.6" y1="557.5" x2="481.4" y2="557.5" stroke="#E00000" stroke-width="3" stroke-linecap="round"/>
<line x1="447.6" y1="581.5" x2="481.4" y2="581.5" stroke="#0000D0" stroke-width="3" stroke-linecap="round"/>
<rect x="1.5" y="1.5" width="597" height="597" fill="none" stroke="#000" stroke-width="3"/>
</svg>
</body></html>
